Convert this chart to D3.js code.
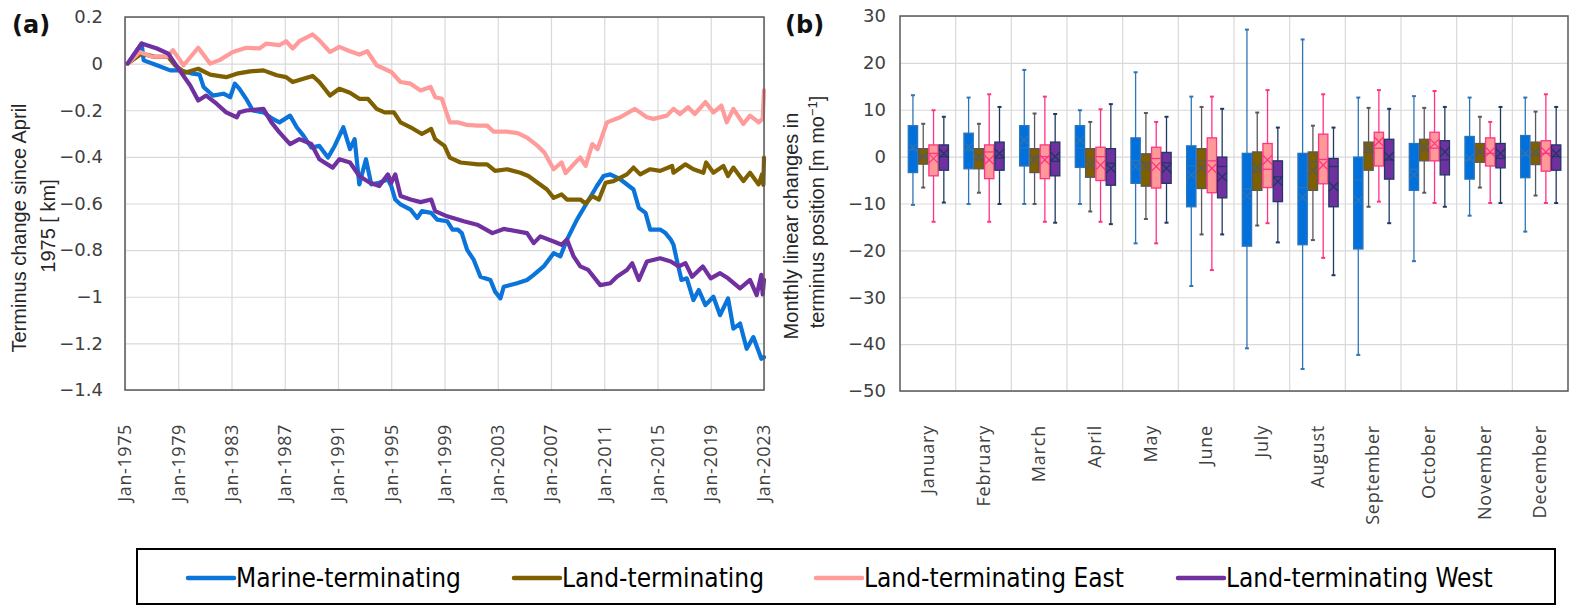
<!DOCTYPE html>
<html>
<head>
<meta charset="utf-8">
<script src="https://cdn.jsdelivr.net/npm/d3@7"></script>
<style>
  body { margin: 0; background: #fff; }
  text { font-family: "DejaVu Sans", sans-serif; }
</style>
</head>
<body>
<div class="viz"></div>
<script>
// ---- data ----
var seriesNames = ["Marine-terminating", "Land-terminating", "Land-terminating East", "Land-terminating West"];
var seriesKeys = ["marine", "land", "east", "west"];

var yearTicks = [1975, 1979, 1983, 1987, 1991, 1995, 1999, 2003, 2007, 2011, 2015, 2019, 2023];
var kmTicks = [0.2, 0, -0.2, -0.4, -0.6, -0.8, -1, -1.2, -1.4];

// [decimal year, km]
var marineLine = [
  [1975.2, 0], [1976.25, 0.086], [1976.4, 0.014], [1977.4, -0.007], [1978.4, -0.029], [1979.1, -0.029],
  [1980.1, -0.043], [1980.6, -0.047], [1980.9, -0.1], [1981.6, -0.137], [1982.4, -0.129], [1982.9, -0.144],
  [1983.25, -0.086], [1983.6, -0.108], [1984.1, -0.151], [1984.6, -0.201], [1985.4, -0.209], [1986.1, -0.237],
  [1986.6, -0.252], [1987.4, -0.223], [1987.9, -0.273], [1988.4, -0.309], [1989, -0.36], [1989.6, -0.353],
  [1990.25, -0.403], [1990.75, -0.353], [1991.4, -0.273], [1991.9, -0.367], [1992.25, -0.324], [1992.6, -0.518],
  [1993.1, -0.41], [1993.5, -0.518], [1994.1, -0.511], [1994.75, -0.496], [1995, -0.525], [1995.3, -0.583],
  [1995.7, -0.604], [1996.45, -0.626], [1996.95, -0.662], [1997.3, -0.633], [1998, -0.64], [1998.45, -0.669],
  [1999.2, -0.676], [1999.6, -0.712], [2000, -0.712], [2000.3, -0.727], [2000.7, -0.799], [2001.2, -0.842],
  [2001.7, -0.914], [2002.45, -0.928], [2002.8, -0.978], [2003.2, -1.007], [2003.45, -0.957], [2004.45, -0.942],
  [2005.2, -0.928], [2005.7, -0.906], [2006.45, -0.87], [2007.2, -0.813], [2007.7, -0.827], [2008.2, -0.755],
  [2008.95, -0.669], [2009.7, -0.597], [2010.45, -0.525], [2010.95, -0.482], [2011.45, -0.475], [2012.2, -0.496],
  [2013.2, -0.54], [2013.6, -0.619], [2014.1, -0.64], [2014.45, -0.712], [2015.2, -0.712], [2015.6, -0.727],
  [2016, -0.755], [2016.2, -0.777], [2016.45, -0.842], [2016.8, -0.928], [2017.2, -0.921], [2017.7, -1.014],
  [2018.1, -0.971], [2018.6, -1.036], [2019.2, -1.0], [2019.7, -1.079], [2020.3, -1.007], [2020.7, -1.137],
  [2021.2, -1.115], [2021.7, -1.223], [2022.2, -1.173], [2022.8, -1.266], [2023, -1.259]
];
var landLine = [
  [1975.2, 0], [1976.25, 0.043], [1977.2, 0.03], [1978.25, 0.029], [1978.75, -0.007], [1979.5, -0.039],
  [1980.5, -0.022], [1981.4, -0.047], [1982.6, -0.058], [1983.4, -0.043], [1984.4, -0.033], [1985.4, -0.029],
  [1986.4, -0.05], [1987.1, -0.058], [1987.6, -0.079], [1988.4, -0.065], [1989.1, -0.053], [1989.6, -0.079],
  [1990.4, -0.137], [1991.1, -0.108], [1991.9, -0.125], [1992.6, -0.151], [1993.25, -0.151], [1993.9, -0.194],
  [1994.5, -0.209], [1995.2, -0.209], [1995.7, -0.252], [1996.45, -0.273], [1997.3, -0.302], [1998, -0.28],
  [1998.3, -0.324], [1999, -0.353], [1999.4, -0.403], [2000.2, -0.424], [2001.5, -0.432], [2002.2, -0.432],
  [2002.8, -0.46], [2003.7, -0.453], [2004.7, -0.468], [2005.3, -0.482], [2006, -0.511], [2006.7, -0.54],
  [2007.2, -0.576], [2007.8, -0.561], [2008.2, -0.583], [2009.2, -0.583], [2009.6, -0.6], [2010.1, -0.568],
  [2010.6, -0.583], [2011.1, -0.511], [2011.7, -0.504], [2012.7, -0.475], [2013.2, -0.446], [2013.7, -0.475],
  [2014.45, -0.453], [2015.2, -0.46], [2016.1, -0.439], [2016.2, -0.468], [2017.1, -0.432], [2017.7, -0.453],
  [2018.45, -0.468], [2018.65, -0.424], [2019.2, -0.468], [2019.95, -0.439], [2020.3, -0.482], [2020.7, -0.446],
  [2021.45, -0.504], [2021.95, -0.468], [2022.6, -0.518], [2022.85, -0.475], [2022.95, -0.52], [2023, -0.403]
];
var eastLine = [
  [1975.2, 0], [1976.1, 0.05], [1977, 0.03], [1978.2, 0.03], [1978.6, 0.058], [1979.4, -0.007],
  [1980.5, 0.068], [1981.4, 0], [1982.1, 0.015], [1983.1, 0.05], [1984.1, 0.068], [1985.1, 0.065],
  [1985.6, 0.086], [1986.6, 0.079], [1987.1, 0.096], [1987.6, 0.065], [1988.1, 0.096], [1989.1, 0.125],
  [1989.6, 0.1], [1990.4, 0.05], [1991.1, 0.072], [1991.9, 0.053], [1992.6, 0.039], [1993.2, 0.053],
  [1993.9, -0.007], [1995, -0.036], [1995.7, -0.079], [1996.45, -0.086], [1997.2, -0.115], [1997.95, -0.1],
  [1998.3, -0.144], [1998.8, -0.151], [1999.4, -0.252], [2000, -0.252], [2000.7, -0.263], [2001.5, -0.266],
  [2002.2, -0.266], [2002.7, -0.292], [2003.7, -0.292], [2004.5, -0.298], [2005.2, -0.317], [2006, -0.353],
  [2006.5, -0.381], [2007.2, -0.453], [2007.8, -0.424], [2008.1, -0.47], [2008.7, -0.432], [2009.2, -0.403],
  [2009.6, -0.439], [2010.1, -0.345], [2010.5, -0.367], [2011.2, -0.252], [2012.2, -0.23], [2013.3, -0.194],
  [2014.2, -0.23], [2014.7, -0.237], [2015.7, -0.223], [2016.2, -0.194], [2016.7, -0.216], [2017.3, -0.187],
  [2017.8, -0.216], [2018.6, -0.165], [2019.2, -0.209], [2019.8, -0.18], [2020.2, -0.252], [2020.7, -0.194],
  [2021.45, -0.259], [2021.95, -0.223], [2022.6, -0.252], [2022.9, -0.237], [2023, -0.115]
];
var westLine = [
  [1975.2, 0], [1976.25, 0.086], [1977.4, 0.065], [1978.25, 0.043], [1979.1, -0.029], [1979.9, -0.094],
  [1980.5, -0.158], [1981.1, -0.137], [1981.9, -0.173], [1982.6, -0.209], [1983.4, -0.23], [1983.6, -0.209],
  [1984.1, -0.201], [1985.4, -0.194], [1986, -0.252], [1986.6, -0.295], [1987.4, -0.345], [1988.1, -0.324],
  [1989, -0.345], [1989.6, -0.41], [1990.6, -0.446], [1991.1, -0.41], [1991.9, -0.424], [1992.6, -0.482],
  [1993.4, -0.511], [1994.1, -0.525], [1994.75, -0.475], [1995, -0.511], [1995.3, -0.475], [1995.7, -0.568],
  [1996.45, -0.583], [1997.2, -0.594], [1998, -0.583], [1998.3, -0.633], [1999.2, -0.655], [2000.45, -0.676],
  [2001.45, -0.691], [2002.6, -0.727], [2003.45, -0.709], [2005.2, -0.727], [2005.7, -0.77], [2006.2, -0.741],
  [2007.2, -0.763], [2007.8, -0.777], [2008.2, -0.755], [2008.7, -0.827], [2009.2, -0.87], [2009.8, -0.885],
  [2010.7, -0.95], [2011.45, -0.942], [2011.95, -0.914], [2012.7, -0.885], [2013.1, -0.856], [2013.6, -0.928],
  [2014.2, -0.849], [2015.2, -0.835], [2016, -0.849], [2016.6, -0.87], [2017.1, -0.856], [2017.6, -0.914],
  [2018.4, -0.87], [2019, -0.921], [2019.7, -0.899], [2020.3, -0.921], [2021.2, -0.964], [2021.95, -0.928],
  [2022.45, -0.993], [2022.8, -0.906], [2022.9, -0.99], [2023, -0.928]
];

var months = ["January", "February", "March", "April", "May", "June", "July",
  "August", "September", "October", "November", "December"];
var rateTicks = [30, 20, 10, 0, -10, -20, -30, -40, -50];

// per month: [min, q1, median, q3, max, mean]  (m per month)
var marineBox = [
  [-10.3, -3.4, 1.5, 6.6, 13.1, 2.0], [-10.1, -2.6, 1.4, 5.0, 12.6, 2.1], [-10.1, -2.0, 1.9, 6.6, 18.5, 3.5],
  [-10.1, -2.3, 1.8, 6.6, 9.9, 3.5], [-18.5, -5.7, -0.9, 4.0, 18.0, -2.1], [-27.6, -10.7, -2.0, 2.3, 12.8, -3.9],
  [-40.9, -19.1, -6.9, 0.7, 27.1, -8.4], [-45.3, -18.8, -6.6, 0.7, 25.0, -8.7], [-42.3, -19.7, -5.0, -0.1, 12.6, -9.3],
  [-22.3, -7.2, -2.7, 2.8, 12.9, -3.9], [-12.6, -4.8, -0.7, 4.3, 12.6, -0.3], [-16.0, -4.5, 0.3, 4.5, 12.6, 0.7]
];
var landBox = [
  [-6.6, -1.6, 0.0, 1.7, 7.0, 0.0], [-7.7, -2.6, -0.7, 1.7, 7.0, 0.0], [-10.1, -3.4, 0.0, 1.7, 9.2, -0.7],
  [-11.7, -4.4, -0.7, 1.7, 7.4, -1.8], [-13.3, -6.3, -1.4, 0.6, 9.3, -2.1], [-16.6, -6.8, -0.9, 1.7, 10.6, -2.5],
  [-14.7, -7.2, -3.2, 1.0, 9.4, -2.3], [-17.8, -7.2, -1.1, 1.0, 6.6, -2.9], [-10.7, -2.9, 0.9, 3.1, 10.4, 1.8],
  [-7.7, -0.9, 1.4, 3.7, 10.4, 2.1], [-6.6, -1.2, 0.7, 2.8, 8.5, 1.0], [-8.3, -1.7, 0.3, 3.1, 9.6, 1.0]
];
var eastBox = [
  [-13.9, -4.1, 0.7, 2.5, 9.9, -0.4], [-13.9, -4.7, 1.0, 2.5, 13.3, -0.7], [-13.9, -4.7, 0.0, 2.5, 12.8, -0.7],
  [-13.9, -5.1, 0.0, 2.0, 10.1, -1.8], [-18.5, -6.7, -0.4, 2.0, 7.4, -2.1], [-24.2, -7.7, -0.9, 4.0, 12.8, -2.5],
  [-14.2, -6.6, -2.7, 2.8, 14.2, -0.7], [-21.6, -5.8, -0.6, 4.8, 13.3, -1.8], [-9.6, -2.0, 1.8, 5.2, 14.2, 3.2],
  [-9.9, -0.9, 1.8, 5.2, 14.0, 2.8], [-9.9, -2.0, 0.7, 4.0, 7.4, 1.0], [-9.9, -3.1, 0.7, 3.4, 13.3, 1.0]
];
var westBox = [
  [-9.8, -2.9, 0.0, 2.5, 8.5, 0.7], [-10.1, -2.9, -0.3, 3.1, 10.6, 0.7], [-14.1, -4.1, -1.0, 3.1, 9.1, 0.0],
  [-14.4, -6.1, -1.4, 1.7, 11.2, -2.5], [-14.1, -5.7, -1.3, 0.9, 8.5, -2.5], [-16.6, -8.8, -2.1, -0.1, 10.2, -4.3],
  [-18.3, -9.6, -4.3, -0.9, 6.2, -5.3], [-25.3, -10.7, -2.1, -0.4, 6.2, -6.4], [-14.2, -4.8, -0.7, 3.7, 10.2, 0.0],
  [-10.7, -3.9, -0.7, 3.4, 10.6, 1.0], [-9.9, -2.4, -0.4, 2.8, 10.6, 0.7], [-9.9, -2.9, 0.0, 2.5, 10.6, 0.7]
];

// ---- styles ----
var lineColor = { marine: "#0a74da", land: "#7f6000", east: "#ff9b9b", west: "#7030a0" };
var boxFill = { marine: "#0070dd", land: "#7f6000", east: "#ff9999", west: "#7030a0" };
var boxStroke = { marine: "#2e75b6", land: "#595959", east: "#ff3385", west: "#1f3864" };

var W = 1577, H = 616;
var svg = d3.select(".viz").append("svg").attr("width", W).attr("height", H);

// ================= panel (a) =================
var ma = { left: 125, right: 764, top: 17, bottom: 390 };
var x = d3.scaleLinear().domain([1975, 2023]).range([ma.left, ma.right]);
var y = d3.scaleLinear().domain([-1.4, 0.2]).range([ma.bottom, ma.top]);

var ga = svg.append("g");

ga.append("g")
  .attr("transform", "translate(0," + ma.bottom + ")")
  .call(d3.axisBottom(x).tickValues(yearTicks).tickSize(-(ma.bottom - ma.top)).tickFormat(""))
  .call(function (g) { g.select(".domain").remove(); })
  .selectAll("line").attr("stroke", "#d9d9d9").attr("stroke-width", 1.2);

ga.append("g")
  .attr("transform", "translate(" + ma.left + ",0)")
  .call(d3.axisLeft(y).tickValues(kmTicks).tickSize(-(ma.right - ma.left)).tickFormat(""))
  .call(function (g) { g.select(".domain").remove(); })
  .selectAll("line").attr("stroke", "#d9d9d9").attr("stroke-width", 1.2);

// y tick labels
ga.selectAll(".ylab").data(kmTicks).enter().append("text")
  .attr("x", ma.left - 22).attr("y", function (d) { return y(d); }).attr("dy", "0.35em")
  .attr("text-anchor", "end").attr("font-size", 18).attr("fill", "#404040")
  .text(function (d) { return d3.format("~g")(d); });

// x tick labels
ga.selectAll(".xlab").data(yearTicks).enter().append("text")
  .attr("transform", function (d) { return "translate(" + x(d) + "," + 424 + ")rotate(-90)"; })
  .attr("dy", "0.35em").attr("text-anchor", "end").attr("font-size", 18).attr("fill", "#404040")
  .attr("letter-spacing", 0.6)
  .style("font-family", "'Open Sans', sans-serif")
  .text(function (d) { return "Jan-" + d; });

var line = d3.line().x(function (d) { return x(d[0]); }).y(function (d) { return y(d[1]); });
var lineData = { marine: marineLine, land: landLine, east: eastLine, west: westLine };
seriesKeys.forEach(function (k) {
  ga.append("path").datum(lineData[k])
    .attr("d", line).attr("fill", "none")
    .attr("stroke", lineColor[k]).attr("stroke-width", 4.2)
    .attr("stroke-linejoin", "round").attr("stroke-linecap", "round");
});

ga.append("rect")
  .attr("x", ma.left).attr("y", ma.top)
  .attr("width", ma.right - ma.left).attr("height", ma.bottom - ma.top)
  .attr("fill", "none").attr("stroke", "#595959").attr("stroke-width", 1.5);

ga.append("text").attr("x", 12).attr("y", 33)
  .attr("font-size", 24).attr("font-weight", "bold").attr("fill", "#111").text("(a)");

ga.append("text").attr("transform", "translate(26,228)rotate(-90)")
  .attr("text-anchor", "middle").attr("font-size", 20).attr("fill", "#262626")
  .style("font-family", "'Liberation Sans', Arial, sans-serif")
  .text("Terminus change since April");
ga.append("text").attr("transform", "translate(55,226)rotate(-90)")
  .attr("text-anchor", "middle").attr("font-size", 20).attr("fill", "#262626")
  .style("font-family", "'Liberation Sans', Arial, sans-serif")
  .text("1975 [ km]");

// ================= panel (b) =================
var mb = { left: 900, right: 1568, top: 16, bottom: 391 };
var xb = d3.scaleBand().domain(months).range([mb.left, mb.right]);
var xs = d3.scaleBand().domain(seriesKeys)
  .range([xb.bandwidth() * 0.14, xb.bandwidth() * 0.88]);
var yb = d3.scaleLinear().domain([-50, 30]).range([mb.bottom, mb.top]);

var gb = svg.append("g");

// vertical gridlines between categories
gb.selectAll(".vgrid").data(months.slice(1)).enter().append("line")
  .attr("x1", function (d) { return xb(d); }).attr("x2", function (d) { return xb(d); })
  .attr("y1", mb.top).attr("y2", mb.bottom)
  .attr("stroke", "#d9d9d9").attr("stroke-width", 1.2);

gb.append("g")
  .attr("transform", "translate(" + mb.left + ",0)")
  .call(d3.axisLeft(yb).tickValues(rateTicks).tickSize(-(mb.right - mb.left)).tickFormat(""))
  .call(function (g) { g.select(".domain").remove(); })
  .selectAll("line").attr("stroke", "#d9d9d9").attr("stroke-width", 1.2);

gb.selectAll(".ylab").data(rateTicks).enter().append("text")
  .attr("x", mb.left - 14).attr("y", function (d) { return yb(d); }).attr("dy", "0.35em")
  .attr("text-anchor", "end").attr("font-size", 18).attr("fill", "#404040")
  .text(function (d) { return d3.format("~g")(d); });

gb.selectAll(".xlab").data(months).enter().append("text")
  .attr("transform", function (d) { return "translate(" + (xb(d) + xb.bandwidth() / 2) + "," + 425 + ")rotate(-90)"; })
  .attr("dy", "0.35em").attr("text-anchor", "end").attr("font-size", 18).attr("fill", "#404040")
  .attr("letter-spacing", 0.8)
  .style("font-family", "'Open Sans', sans-serif")
  .text(function (d) { return d; });

var boxData = { marine: marineBox, land: landBox, east: eastBox, west: westBox };
var bw = xs.bandwidth();
seriesKeys.forEach(function (k) {
  var g = gb.append("g");
  var items = g.selectAll("g").data(boxData[k]).enter().append("g")
    .attr("transform", function (d, i) { return "translate(" + (xb(months[i]) + xs(k)) + ",0)"; });
  var c = bw / 2;
  // whisker
  items.append("line")
    .attr("x1", c).attr("x2", c)
    .attr("y1", function (d) { return yb(d[4]); }).attr("y2", function (d) { return yb(d[0]); })
    .attr("stroke", boxStroke[k]).attr("stroke-width", 1.3);
  [0, 4].forEach(function (j) {
    items.append("line")
      .attr("x1", c - 2).attr("x2", c + 2)
      .attr("y1", function (d) { return yb(d[j]); }).attr("y2", function (d) { return yb(d[j]); })
      .attr("stroke", boxStroke[k]).attr("stroke-width", 2);
  });
  // box
  items.append("rect")
    .attr("x", 0.5).attr("width", bw - 1)
    .attr("y", function (d) { return yb(d[3]); })
    .attr("height", function (d) { return yb(d[1]) - yb(d[3]); })
    .attr("fill", boxFill[k]).attr("stroke", boxStroke[k]).attr("stroke-width", 1.3);
  // median
  items.append("line")
    .attr("x1", 0.5).attr("x2", bw - 0.5)
    .attr("y1", function (d) { return yb(d[2]); }).attr("y2", function (d) { return yb(d[2]); })
    .attr("stroke", boxStroke[k]).attr("stroke-width", 1.3);
  // mean marker X
  var s = bw / 2 - 0.5;
  items.append("path")
    .attr("d", function (d) {
      var m = yb(d[5]);
      return "M" + (c - s) + "," + (m - s) + "L" + (c + s) + "," + (m + s) +
        "M" + (c - s) + "," + (m + s) + "L" + (c + s) + "," + (m - s);
    })
    .attr("fill", "none").attr("stroke", boxStroke[k]).attr("stroke-width", 1.3);
});

gb.append("rect")
  .attr("x", mb.left).attr("y", mb.top)
  .attr("width", mb.right - mb.left).attr("height", mb.bottom - mb.top)
  .attr("fill", "none").attr("stroke", "#595959").attr("stroke-width", 1.5);

gb.append("text").attr("x", 785).attr("y", 33)
  .attr("font-size", 24).attr("font-weight", "bold").attr("fill", "#111").text("(b)");

gb.append("text").attr("transform", "translate(798,226)rotate(-90)")
  .attr("text-anchor", "middle").attr("font-size", 20).attr("fill", "#262626")
  .style("font-family", "'Liberation Sans', Arial, sans-serif")
  .text("Monthly linear changes in");
var t2 = gb.append("text").attr("transform", "translate(824,212)rotate(-90)")
  .attr("text-anchor", "middle").attr("font-size", 20).attr("fill", "#262626")
  .style("font-family", "'Liberation Sans', Arial, sans-serif");
t2.append("tspan").text("terminus position [m mo");
t2.append("tspan").attr("baseline-shift", "super").attr("font-size", 13).text("\u22121");
t2.append("tspan").text("]");

// ================= legend =================
var lg = svg.append("g");
lg.append("rect").attr("x", 137).attr("y", 549).attr("width", 1418).attr("height", 55)
  .attr("fill", "#fff").attr("stroke", "#000").attr("stroke-width", 2);
var legendX = [188, 514, 816, 1178];
seriesKeys.forEach(function (k, i) {
  lg.append("line").attr("x1", legendX[i]).attr("x2", legendX[i] + 46)
    .attr("y1", 578).attr("y2", 578)
    .attr("stroke", lineColor[k]).attr("stroke-width", 4.5).attr("stroke-linecap", "round");
  lg.append("text").attr("x", legendX[i] + 48).attr("y", 587)
    .attr("font-size", 26).attr("fill", "#000")
    .style("font-family", "'Liberation Sans Narrow', 'DejaVu Sans Condensed', sans-serif")
    .text(seriesNames[i]);
});
</script>
</body>
</html>
